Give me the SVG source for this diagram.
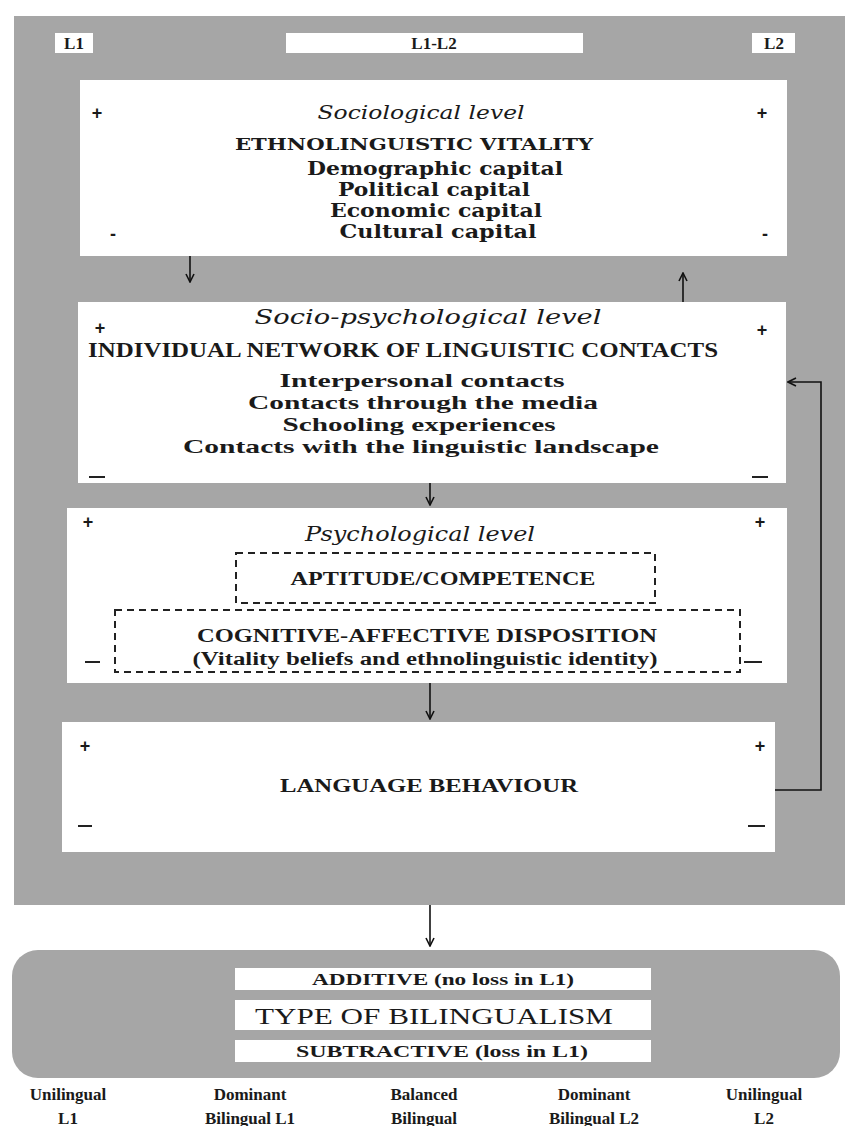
<svg xmlns="http://www.w3.org/2000/svg" width="845" height="1126" viewBox="0 0 845 1126">
<defs>
<style>
.bg{fill:#a6a6a6}
.box{fill:#ffffff}
.t{font-family:"Liberation Serif",serif;fill:#1a1a1a;text-anchor:middle}
.d{font-family:"DejaVu Serif",serif;fill:#1a1a1a;text-anchor:middle}
.b{font-weight:bold}
.i{font-style:italic}
.pm{font-family:"Liberation Sans",sans-serif;font-size:18px;fill:#1a1a1a;text-anchor:middle;font-weight:bold}
.dash{fill:none;stroke:#222;stroke-width:2;stroke-dasharray:7,5}
.con{fill:none;stroke:#111;stroke-width:1.6}
</style>
<marker id="ah" viewBox="0 0 10 10" refX="9" refY="5" markerWidth="10" markerHeight="10" orient="auto" markerUnits="userSpaceOnUse">
<path d="M1,1 L9,5 L1,9" fill="none" stroke="#111" stroke-width="1.6"/>
</marker>
</defs>
<rect width="845" height="1126" fill="#ffffff"/>
<rect id="outer" class="bg" x="14" y="16" width="831" height="889"/>

<g id="label-L1"><rect class="box" x="55" y="33" width="38" height="20"/><text class="t b" x="74" y="49" font-size="17">L1</text></g>
<g id="label-L1L2"><rect class="box" x="286" y="33" width="297" height="20"/><text class="t b" x="434" y="49" font-size="17">L1-L2</text></g>
<g id="label-L2"><rect class="box" x="752" y="33" width="43" height="20"/><text class="t b" x="774" y="49" font-size="17">L2</text></g>

<g id="sociological">
<rect class="box" x="80" y="80" width="707" height="176"/>
<text class="pm" x="97" y="119">+</text><text class="pm" x="762" y="119">+</text>
<text class="pm" x="113" y="240">-</text><text class="pm" x="765" y="240">-</text>
<text class="d i" x="421" y="119" font-size="19" textLength="207" lengthAdjust="spacingAndGlyphs">Sociological level</text>
<text class="d b" x="414" y="150" font-size="17" textLength="358" lengthAdjust="spacingAndGlyphs">ETHNOLINGUISTIC VITALITY</text>
<text class="d b" x="435" y="175" font-size="18.5" textLength="256" lengthAdjust="spacingAndGlyphs">Demographic capital</text>
<text class="d b" x="434" y="196" font-size="18.5" textLength="192" lengthAdjust="spacingAndGlyphs">Political capital</text>
<text class="d b" x="436" y="217" font-size="18.5" textLength="212" lengthAdjust="spacingAndGlyphs">Economic capital</text>
<text class="d b" x="438" y="238" font-size="18.5" textLength="197" lengthAdjust="spacingAndGlyphs">Cultural capital</text>
</g>

<g id="socio-psychological">
<rect class="box" x="78" y="302" width="708" height="181"/>
<text class="d i" x="428" y="324" font-size="20" textLength="347" lengthAdjust="spacingAndGlyphs">Socio-psychological level</text>
<text class="pm" x="100" y="334">+</text><text class="pm" x="762" y="336">+</text>
<text class="t b" x="403" y="357" font-size="20" textLength="630" lengthAdjust="spacingAndGlyphs">INDIVIDUAL NETWORK OF LINGUISTIC CONTACTS</text>
<text class="t b" x="422" y="387" font-size="19.5" textLength="285" lengthAdjust="spacingAndGlyphs">Interpersonal contacts</text>
<text class="t b" x="423" y="409" font-size="19.5" textLength="350" lengthAdjust="spacingAndGlyphs">Contacts through the media</text>
<text class="t b" x="419" y="431" font-size="19.5" textLength="273" lengthAdjust="spacingAndGlyphs">Schooling experiences</text>
<text class="t b" x="421" y="453" font-size="19.5" textLength="476" lengthAdjust="spacingAndGlyphs">Contacts with the linguistic landscape</text>
<line x1="89" y1="477" x2="105" y2="477" stroke="#222" stroke-width="2"/>
<line x1="752" y1="477" x2="768" y2="477" stroke="#222" stroke-width="2"/>
</g>

<g id="psychological">
<rect class="box" x="67" y="508" width="720" height="175"/>
<text class="pm" x="88" y="528">+</text><text class="pm" x="760" y="528">+</text>
<text class="d i" x="420" y="541" font-size="20" textLength="230" lengthAdjust="spacingAndGlyphs">Psychological level</text>
<g id="aptitude"><rect class="dash" x="236" y="553" width="419" height="50"/>
<text class="t b" x="443" y="585" font-size="19" textLength="305" lengthAdjust="spacingAndGlyphs">APTITUDE/COMPETENCE</text></g>
<g id="disposition"><rect class="dash" x="115" y="610" width="625" height="62"/>
<text class="t b" x="427" y="642" font-size="19" textLength="460" lengthAdjust="spacingAndGlyphs">COGNITIVE-AFFECTIVE DISPOSITION</text>
<text class="t b" x="425" y="665" font-size="18" textLength="465" lengthAdjust="spacingAndGlyphs">(Vitality beliefs and ethnolinguistic identity)</text></g>
<line x1="85" y1="662" x2="100" y2="662" stroke="#222" stroke-width="2"/>
<line x1="744" y1="662" x2="762" y2="662" stroke="#222" stroke-width="2"/>
</g>

<g id="language-behaviour">
<rect class="box" x="62" y="722" width="713" height="130"/>
<text class="pm" x="85" y="752">+</text><text class="pm" x="760" y="752">+</text>
<text class="t b" x="429" y="792" font-size="19" textLength="298" lengthAdjust="spacingAndGlyphs">LANGUAGE BEHAVIOUR</text>
<line x1="78" y1="826" x2="92" y2="826" stroke="#222" stroke-width="2"/>
<line x1="748" y1="826" x2="765" y2="826" stroke="#222" stroke-width="2"/>
</g>

<g id="bilingualism">
<rect class="bg" x="12" y="950" width="828" height="128" rx="26"/>
<rect class="box" x="235" y="968" width="416" height="22"/>
<text class="t b" x="443" y="985" font-size="17" textLength="262" lengthAdjust="spacingAndGlyphs">ADDITIVE (no loss in L1)</text>
<rect class="box" x="235" y="1000" width="416" height="30"/>
<text class="t" x="434" y="1024" font-size="24" textLength="358" lengthAdjust="spacingAndGlyphs">TYPE OF BILINGUALISM</text>
<rect class="box" x="235" y="1040" width="416" height="22"/>
<text class="t b" x="442" y="1057" font-size="17" textLength="292" lengthAdjust="spacingAndGlyphs">SUBTRACTIVE (loss in L1)</text>
</g>

<g id="scale-labels">
<text class="t b" x="68" y="1100" font-size="17">Unilingual</text>
<text class="t b" x="68" y="1124" font-size="17">L1</text>
<text class="t b" x="250" y="1100" font-size="17">Dominant</text>
<text class="t b" x="250" y="1124" font-size="17">Bilingual L1</text>
<text class="t b" x="424" y="1100" font-size="17">Balanced</text>
<text class="t b" x="424" y="1124" font-size="17">Bilingual</text>
<text class="t b" x="594" y="1100" font-size="17">Dominant</text>
<text class="t b" x="594" y="1124" font-size="17">Bilingual L2</text>
<text class="t b" x="764" y="1100" font-size="17">Unilingual</text>
<text class="t b" x="764" y="1124" font-size="17">L2</text>
</g>

<g id="connectors">
<line class="con" x1="190" y1="256" x2="190" y2="282" marker-end="url(#ah)"/>
<line class="con" x1="683" y1="302" x2="683" y2="273" marker-end="url(#ah)"/>
<line class="con" x1="430" y1="483" x2="430" y2="505" marker-end="url(#ah)"/>
<line class="con" x1="430" y1="683" x2="430" y2="719" marker-end="url(#ah)"/>
<polyline class="con" points="775,790 821,790 821,382 788,382" marker-end="url(#ah)"/>
<line class="con" x1="430" y1="905" x2="430" y2="946" marker-end="url(#ah)"/>
</g>
</svg>
